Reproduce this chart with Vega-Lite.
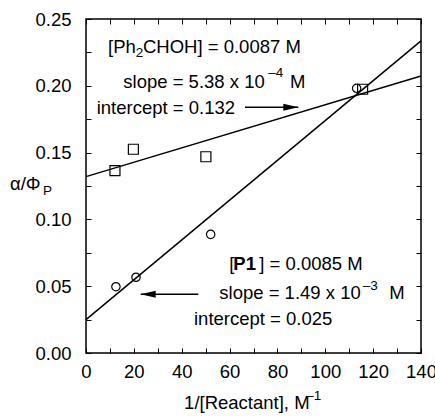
{
  "$schema": "https://vega.github.io/schema/vega-lite/v6.json",
  "width": 335,
  "height": 334,
  "autosize": {"type": "none"},
  "padding": {"left": 86, "top": 19, "right": 14, "bottom": 66},
  "background": "white",
  "config": {
    "font": "Liberation Sans",
    "view": {"stroke": "black", "strokeWidth": 1.5},
    "axis": {
      "domain": false,
      "grid": false,
      "title": null,
      "labelFontSize": 18.5,
      "labelColor": "black",
      "labelFont": "Liberation Sans",
      "tickColor": "black",
      "tickWidth": 1,
      "tickSize": -5,
      "labelFlush": false,
      "labelOverlap": false
    }
  },
  "datasets": {
    "lines": [
      {"s": "A", "x": 0, "y": 0.132},
      {"s": "A", "x": 140, "y": 0.2073},
      {"s": "B", "x": 0, "y": 0.025},
      {"s": "B", "x": 140, "y": 0.2336}
    ],
    "pts": [
      {"s": "A", "x": 12.1, "y": 0.1365},
      {"s": "A", "x": 19.8, "y": 0.1525},
      {"s": "A", "x": 50.1, "y": 0.1469},
      {"s": "A", "x": 115.6, "y": 0.1974},
      {"s": "B", "x": 12.5, "y": 0.0496},
      {"s": "B", "x": 20.9, "y": 0.0567},
      {"s": "B", "x": 52.1, "y": 0.0888},
      {"s": "B", "x": 113.1, "y": 0.1981}
    ],
    "arrows": [
      {"dir": "right", "tail": 66.45, "tip": 88.72, "y": 0.1839},
      {"dir": "left", "tail": 46.93, "tip": 22.86, "y": 0.0439}
    ],
    "txt": [
      {"kind": "main", "text": "[Ph", "x": 9.19, "y": 0.2288},
      {"kind": "small", "text": "2", "x": 20.77, "y": 0.2243},
      {"kind": "main", "text": "CHOH] = 0.0087 M", "x": 23.82, "y": 0.2288},
      {"kind": "main", "text": "slope = 5.38 x 10", "x": 15.59, "y": 0.2031},
      {"kind": "small", "text": "–4", "x": 76.18, "y": 0.2094},
      {"kind": "main", "text": "M", "x": 85.25, "y": 0.2031},
      {"kind": "main", "text": "intercept = 0.132", "x": 4.47, "y": 0.1836},
      {"kind": "main", "text": "[", "x": 59.89, "y": 0.0666},
      {"kind": "bold", "text": "P1", "x": 61.56, "y": 0.0666},
      {"kind": "main", "text": "] = 0.0085 M", "x": 72.42, "y": 0.0666},
      {"kind": "main", "text": "slope = 1.49 x 10", "x": 55.71, "y": 0.0451},
      {"kind": "small", "text": "–3", "x": 115.63, "y": 0.0501},
      {"kind": "main", "text": "M", "x": 126.75, "y": 0.0451},
      {"kind": "main", "text": "intercept = 0.025", "x": 45.13, "y": 0.0252},
      {"kind": "main", "text": "α/Φ", "x": -31.76, "y": 0.1265},
      {"kind": "small", "text": "P", "x": -18.0, "y": 0.1215},
      {"kind": "main", "text": "1/[Reactant], M", "x": 41.0, "y": -0.0374},
      {"kind": "small", "text": "–1", "x": 92.0, "y": -0.0322}
    ]
  },
  "resolve": {"axis": {"x": "independent", "y": "independent"}, "scale": {"shape": "independent", "size": "independent"}},
  "layer": [
    {
      "data": {"name": "lines"},
      "mark": {"type": "line", "color": "black", "strokeWidth": 1.5},
      "encoding": {
        "x": {
          "field": "x", "type": "quantitative",
          "scale": {"domain": [0, 140], "nice": false, "zero": false},
          "axis": {
            "orient": "bottom",
            "values": [0, 10, 20, 30, 40, 50, 60, 70, 80, 90, 100, 110, 120, 130, 140],
            "labelExpr": "datum.value % 20 == 0 ? datum.label : ''",
            "labelPadding": 14
          }
        },
        "y": {
          "field": "y", "type": "quantitative",
          "scale": {"domain": [0, 0.25], "nice": false, "zero": false},
          "axis": {
            "orient": "left",
            "values": [0, 0.025, 0.05, 0.075, 0.1, 0.125, 0.15, 0.175, 0.2, 0.225, 0.25],
            "format": ".2f",
            "labelExpr": "round(datum.value * 1000) % 50 == 0 ? datum.label : ''",
            "labelPadding": 20
          }
        },
        "detail": {"field": "s", "type": "nominal"}
      }
    },
    {
      "data": {"name": "pts"},
      "mark": {"type": "point", "filled": false, "color": "black", "strokeWidth": 1.2, "opacity": 1},
      "encoding": {
        "x": {
          "field": "x", "type": "quantitative",
          "scale": {"domain": [0, 140], "nice": false, "zero": false},
          "axis": {
            "orient": "top",
            "labels": false,
            "values": [0, 10, 20, 30, 40, 50, 60, 70, 80, 90, 100, 110, 120, 130, 140]
          }
        },
        "y": {
          "field": "y", "type": "quantitative",
          "scale": {"domain": [0, 0.25], "nice": false, "zero": false},
          "axis": {
            "orient": "right",
            "labels": false,
            "values": [0, 0.025, 0.05, 0.075, 0.1, 0.125, 0.15, 0.175, 0.2, 0.225, 0.25]
          }
        },
        "shape": {
          "field": "s", "type": "nominal",
          "scale": {"domain": ["A", "B"], "range": ["square", "circle"]},
          "legend": null
        },
        "size": {
          "field": "s", "type": "nominal",
          "scale": {"domain": ["A", "B"], "range": [100, 70]},
          "legend": null
        }
      }
    },
    {
      "data": {"name": "arrows"},
      "mark": {"type": "rule", "color": "black", "strokeWidth": 1.5},
      "encoding": {
        "x": {"field": "tail", "type": "quantitative", "scale": {"domain": [0, 140], "nice": false, "zero": false}, "axis": null},
        "x2": {"field": "tip"},
        "y": {"field": "y", "type": "quantitative", "scale": {"domain": [0, 0.25], "nice": false, "zero": false}, "axis": null}
      }
    },
    {
      "data": {"name": "arrows"},
      "transform": [{"filter": "datum.dir == 'right'"}],
      "mark": {"type": "point", "filled": true, "color": "black", "opacity": 1, "size": 225, "strokeWidth": 0, "shape": "M0,0L-2,-0.47L-2,0.47Z"},
      "encoding": {
        "x": {"field": "tip", "type": "quantitative", "scale": {"domain": [0, 140], "nice": false, "zero": false}, "axis": null},
        "y": {"field": "y", "type": "quantitative", "scale": {"domain": [0, 0.25], "nice": false, "zero": false}, "axis": null}
      }
    },
    {
      "data": {"name": "arrows"},
      "transform": [{"filter": "datum.dir == 'left'"}],
      "mark": {"type": "point", "filled": true, "color": "black", "opacity": 1, "size": 225, "strokeWidth": 0, "shape": "M0,0L2,-0.47L2,0.47Z"},
      "encoding": {
        "x": {"field": "tip", "type": "quantitative", "scale": {"domain": [0, 140], "nice": false, "zero": false}, "axis": null},
        "y": {"field": "y", "type": "quantitative", "scale": {"domain": [0, 0.25], "nice": false, "zero": false}, "axis": null}
      }
    },
    {
      "data": {"name": "txt"},
      "transform": [{"filter": "datum.kind == 'main'"}],
      "mark": {"type": "text", "align": "left", "baseline": "middle", "fontSize": 18.5, "color": "black", "font": "Liberation Sans"},
      "encoding": {
        "x": {"field": "x", "type": "quantitative", "scale": {"domain": [0, 140], "nice": false, "zero": false}, "axis": null},
        "y": {"field": "y", "type": "quantitative", "scale": {"domain": [0, 0.25], "nice": false, "zero": false}, "axis": null},
        "text": {"field": "text"}
      }
    },
    {
      "data": {"name": "txt"},
      "transform": [{"filter": "datum.kind == 'small'"}],
      "mark": {"type": "text", "align": "left", "baseline": "middle", "fontSize": 13.5, "color": "black", "font": "Liberation Sans"},
      "encoding": {
        "x": {"field": "x", "type": "quantitative", "scale": {"domain": [0, 140], "nice": false, "zero": false}, "axis": null},
        "y": {"field": "y", "type": "quantitative", "scale": {"domain": [0, 0.25], "nice": false, "zero": false}, "axis": null},
        "text": {"field": "text"}
      }
    },
    {
      "data": {"name": "txt"},
      "transform": [{"filter": "datum.kind == 'bold'"}],
      "mark": {"type": "text", "align": "left", "baseline": "middle", "fontSize": 18.5, "fontWeight": "bold", "color": "black", "font": "Liberation Sans"},
      "encoding": {
        "x": {"field": "x", "type": "quantitative", "scale": {"domain": [0, 140], "nice": false, "zero": false}, "axis": null},
        "y": {"field": "y", "type": "quantitative", "scale": {"domain": [0, 0.25], "nice": false, "zero": false}, "axis": null},
        "text": {"field": "text"}
      }
    }
  ]
}
